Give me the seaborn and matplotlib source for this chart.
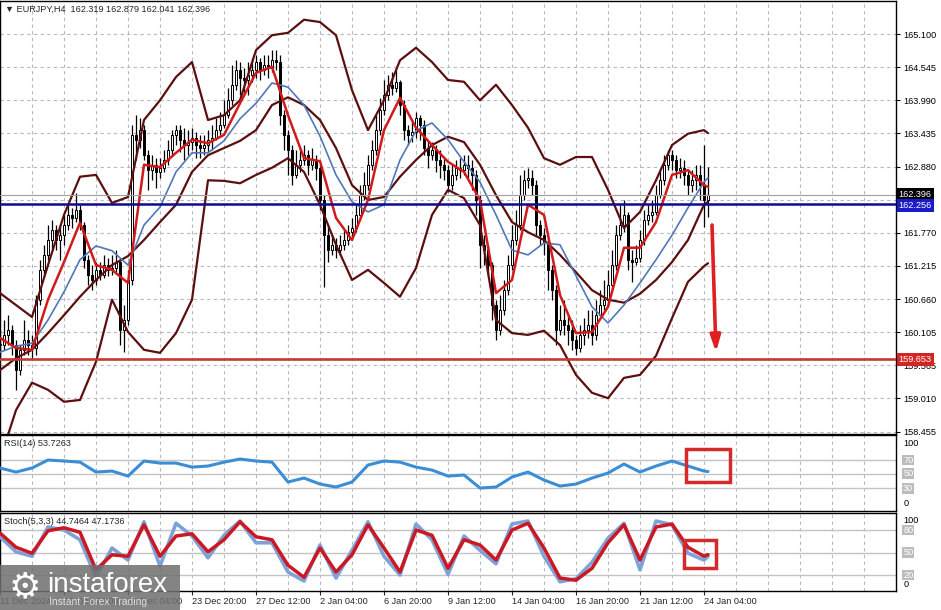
import matplotlib
matplotlib.use("Agg")
import matplotlib.pyplot as plt
import matplotlib.transforms as mtransforms
from matplotlib.patches import Rectangle
import numpy as np
import pandas as pd
import seaborn as sns

sns.set_style("white")
plt.rcParams["font.family"] = ["Liberation Sans", "DejaVu Sans"]

# EURJPY H4 candles (opens = previous close)
closes = [159.89, 160.06, 160.14, 159.89, 159.47, 159.81, 159.97, 159.89, 159.84, 160.65,
          161.15, 161.40, 161.65, 161.82, 161.65, 161.73, 161.90, 162.07, 162.02, 162.15,
          161.90, 161.32, 161.06, 160.98, 161.15, 161.06, 161.23, 161.15, 161.18, 161.28,
          160.14, 160.31, 160.98, 163.41, 163.33, 163.49, 163.07, 162.82, 162.91, 162.79,
          162.86, 162.99, 163.16, 163.41, 163.49, 163.33, 163.24, 163.29, 163.36, 163.24,
          163.19, 163.24, 163.33, 163.36, 163.49, 163.58, 163.74, 163.99, 164.25, 164.50,
          164.36, 164.33, 164.41, 164.50, 164.63, 164.50, 164.58, 164.53, 164.66, 164.63,
          163.74, 163.41, 163.16, 162.74, 162.91, 162.99, 163.07, 162.91, 162.99, 162.86,
          162.32, 161.73, 161.48, 161.57, 161.48, 161.57, 161.65, 161.78, 161.85, 162.07,
          162.40, 162.57, 162.91, 163.16, 163.49, 163.83, 164.08, 164.25, 164.20, 164.30,
          163.91, 163.49, 163.41, 163.46, 163.69, 163.58, 163.19, 163.07, 163.16, 162.99,
          162.91, 162.82, 162.57, 162.74, 162.86, 162.82, 162.91, 162.86, 162.74, 162.32,
          161.57, 161.48, 161.23, 160.56, 160.14, 160.48, 160.81, 161.23, 161.65, 161.90,
          162.40, 162.65, 162.69, 162.57, 161.90, 161.73, 161.62, 161.15, 160.81, 160.14,
          160.31, 160.23, 160.14, 159.97, 159.84, 160.06, 160.14, 160.23, 160.06, 160.39,
          160.56, 160.65, 160.90, 161.23, 161.73, 161.90, 162.07, 161.32, 161.28, 161.35,
          161.65, 161.98, 162.07, 162.12, 162.40, 162.65, 162.91, 163.07, 162.99, 162.82,
          162.86, 162.74, 162.57, 162.65, 162.74, 162.57, 162.319, 162.396]
highs = [160.14, 160.31, 160.39, 160.23, 159.97, 159.89, 160.31, 160.14, 160.06, 160.73,
         161.32, 161.57, 161.90, 161.98, 161.90, 161.90, 162.07, 162.24, 162.19, 162.44,
         162.24, 161.95, 161.40, 161.23, 161.28, 161.28, 161.40, 161.35, 161.40, 161.48,
         161.35, 160.56, 161.15, 163.58, 163.74, 163.69, 163.58, 163.16, 163.07, 163.02,
         163.02, 163.16, 163.33, 163.49, 163.58, 163.58, 163.53, 163.49, 163.53, 163.46,
         163.41, 163.41, 163.49, 163.58, 163.69, 163.79, 163.99, 164.20, 164.58, 164.66,
         164.63, 164.53, 164.63, 164.70, 164.75, 164.70, 164.75, 164.75, 164.83, 164.83,
         164.75, 163.83, 163.49, 163.24, 163.16, 163.19, 163.24, 163.16, 163.19, 163.07,
         162.91, 162.40, 161.90, 161.73, 161.68, 161.73, 161.82, 161.90, 162.02, 162.24,
         162.57, 162.79, 163.07, 163.33, 163.74, 164.03, 164.33, 164.41, 164.46, 164.50,
         164.33, 163.99, 163.58, 163.66, 163.79, 163.74, 163.66, 163.33, 163.29, 163.24,
         163.16, 163.02, 162.91, 162.91, 162.99, 163.02, 163.07, 163.07, 162.99, 162.82,
         162.40, 161.73, 161.57, 161.28, 160.65, 160.73, 160.98, 161.40, 161.90, 162.15,
         162.74, 162.82, 162.86, 162.82, 162.65, 161.98, 161.85, 161.68, 161.23, 160.90,
         160.56, 160.65, 160.39, 160.31, 160.06, 160.23, 160.34, 160.48, 160.48, 160.65,
         160.81, 160.98, 161.15, 161.48, 161.90, 162.24, 162.32, 162.12, 161.48, 161.57,
         161.82, 162.15, 162.24, 162.32, 162.57, 162.82, 163.07, 163.16, 163.16, 163.07,
         163.02, 162.99, 162.82, 162.82, 162.91, 162.91, 163.24, 162.879]
lows = [159.64, 159.81, 159.89, 159.72, 159.14, 159.39, 159.72, 159.72, 159.64, 159.72,
        160.56, 161.06, 161.32, 161.48, 161.48, 161.32, 161.57, 161.82, 161.85, 161.95,
        161.82, 161.18, 160.90, 160.81, 160.90, 160.98, 161.01, 161.05, 161.06, 161.11,
        159.89, 159.77, 160.23, 160.90, 162.99, 163.19, 162.99, 162.49, 162.65, 162.52,
        162.69, 162.79, 162.91, 163.07, 163.24, 163.12, 162.99, 163.07, 163.16, 163.02,
        163.02, 163.07, 163.12, 163.16, 163.33, 163.41, 163.53, 163.69, 163.91, 164.16,
        164.08, 164.13, 164.08, 164.30, 164.36, 164.33, 164.41, 164.36, 164.46, 164.50,
        163.58, 163.16, 162.74, 162.57, 162.69, 162.79, 162.91, 162.74, 162.82, 162.65,
        162.15, 160.86, 161.28, 161.40, 161.35, 161.40, 161.48, 161.57, 161.65, 161.78,
        161.98, 162.32, 162.49, 162.82, 163.07, 163.41, 163.74, 163.99, 164.08, 164.13,
        163.74, 163.33, 163.24, 163.29, 163.36, 163.33, 163.07, 162.86, 162.99, 162.79,
        162.69, 162.65, 162.45, 162.49, 162.65, 162.69, 162.74, 162.69, 162.49, 162.07,
        161.18, 161.23, 161.06, 160.31, 159.97, 160.06, 160.39, 160.73, 161.15, 161.57,
        161.82, 162.32, 162.52, 162.40, 161.73, 161.57, 161.40, 160.81, 160.65, 159.89,
        160.06, 160.06, 159.89, 159.81, 159.72, 159.77, 159.89, 160.01, 159.89, 159.97,
        160.39, 160.48, 160.56, 160.81, 161.15, 161.65, 161.78, 161.15, 160.95, 161.23,
        161.28, 161.57, 161.90, 161.95, 162.07, 162.35, 162.57, 162.82, 162.82, 162.69,
        162.69, 162.57, 162.40, 162.45, 162.49, 162.32, 161.87, 162.041]

# indicator readings: every 4th bar plus the last bar
line_bars = list(range(0, 177, 4)) + [177]
bb_upper = [160.76, 160.56, 160.36, 161.23, 162.07, 162.71, 162.74, 162.27, 162.37, 163.66,
            163.99, 164.38, 164.63, 163.66, 163.74, 163.99, 164.83, 165.08, 165.12, 165.34,
            165.30, 165.08, 164.16, 163.49, 163.99, 164.66, 164.87, 164.63, 164.33, 164.30,
            163.99, 164.25, 163.91, 163.53, 163.02, 162.91, 163.04, 163.04, 162.49, 161.85,
            162.12, 162.65, 163.24, 163.43, 163.49, 163.44]
bb_middle = [159.47, 159.67, 159.81, 160.09, 160.39, 160.70, 160.98, 161.23, 161.38, 161.65,
             161.95, 162.24, 162.79, 163.07, 163.19, 163.31, 163.49, 163.91, 164.04, 163.91,
             163.66, 163.19, 162.57, 162.32, 162.37, 162.71, 162.99, 163.24, 163.38, 163.29,
             162.91, 162.40, 161.95, 161.78, 161.65, 161.40, 161.11, 160.81, 160.65, 160.60,
             160.75, 160.98, 161.28, 161.65, 162.24, 162.29]
bb_lower = [157.97, 158.80, 159.26, 159.14, 158.94, 158.97, 159.61, 160.65, 160.11, 159.81,
            159.76, 160.09, 160.65, 162.65, 162.64, 162.60, 162.74, 162.86, 163.02, 162.79,
            162.24, 161.57, 160.98, 161.15, 160.93, 160.70, 161.18, 162.07, 162.49, 162.35,
            161.90, 160.31, 160.09, 160.06, 160.13, 159.89, 159.39, 159.09, 159.00, 159.34,
            159.39, 159.71, 160.34, 160.95, 161.21, 161.26]
ma_fast = [160.01, 159.84, 159.81, 160.65, 161.28, 161.94, 161.23, 161.15, 160.93, 162.91,
           162.87, 163.11, 163.33, 163.27, 163.41, 163.94, 164.45, 164.55, 163.74, 163.02,
           162.97, 162.02, 161.65, 162.32, 163.49, 164.03, 163.53, 163.24, 162.96, 162.79,
           162.32, 160.76, 160.98, 162.24, 162.07, 160.73, 160.09, 160.11, 160.53, 161.52,
           161.52, 161.95, 162.74, 162.82, 162.57, 162.54]
ma_slow = [159.77, 159.87, 159.92, 160.31, 160.78, 161.32, 161.55, 161.47, 161.23, 161.90,
           162.20, 162.79, 163.11, 163.11, 163.31, 163.68, 163.94, 164.28, 164.21, 163.91,
           163.39, 162.74, 162.29, 162.12, 162.24, 162.99, 163.48, 163.61, 163.33, 162.96,
           162.62, 162.07, 161.48, 161.40, 161.60, 161.57, 161.05, 160.53, 160.26, 160.56,
           160.93, 161.32, 161.73, 162.19, 162.62, 162.69]
rsi = [58.7, 53.0, 58.7, 70.0, 68.6, 67.0, 53.0, 54.4, 47.3, 68.6,
       65.7, 65.7, 60.0, 61.5, 67.0, 71.4, 68.6, 67.0, 38.9, 44.5,
       36.0, 31.8, 38.9, 62.9, 68.6, 67.0, 60.0, 55.8, 47.3, 48.8,
       30.4, 31.8, 45.9, 53.0, 41.7, 33.2, 36.0, 44.5, 51.6, 64.3,
       53.0, 61.5, 68.6, 61.5, 54.4, 53.7263]
stoch_k = [71, 51, 45, 84, 80, 67, 17, 56, 40, 91,
           32, 89, 72, 43, 73, 92, 63, 63, 24, 12,
           60, 16, 53, 91, 45, 20, 88, 67, 21, 72,
           53, 35, 88, 92, 45, 11, 15, 37, 69, 89,
           27, 92, 87, 49, 40, 44.7464]
stoch_d = [76, 57, 49, 79, 83, 77, 27, 47, 45, 87,
           45, 72, 75, 51, 67, 91, 71, 67, 33, 17,
           56, 24, 47, 87, 56, 24, 80, 73, 29, 67,
           60, 40, 80, 89, 56, 16, 13, 29, 63, 87,
           40, 84, 88, 57, 45, 47.1736]

date_labels = ["11 Dec 2024", "16 Dec 12:00", "19 Dec 04:00", "23 Dec 20:00",
               "27 Dec 12:00", "2 Jan 04:00", "6 Jan 20:00", "9 Jan 12:00",
               "14 Jan 04:00", "16 Jan 20:00", "21 Jan 12:00", "24 Jan 04:00"]
price_ticks = [165.100, 164.545, 163.990, 163.435, 162.880, 162.325, 161.770,
               161.215, 160.660, 160.105, 159.550, 158.995, 158.440]
price_labels = ["165.100", "164.545", "163.990", "163.435", "162.880", "", "161.770",
                "161.215", "160.660", "160.105", "159.565", "159.010", "158.455"]

resistance = 162.256
support = 159.653
last_price = 162.396

GRID = "#b8b8b8"
MAROON = "#5c0f0f"

fig = plt.figure(figsize=(9.41, 6.10), dpi=100)
fig.patch.set_facecolor("white")
ax = fig.add_axes([0, 0.28852, 0.95218, 0.70984])
ax_rsi = fig.add_axes([0, 0.16230, 0.95218, 0.12459])
ax_st = fig.add_axes([0, 0.03115, 0.95218, 0.12787])


def setup_panel(a):
    for s in a.spines.values():
        s.set_color("black")
        s.set_linewidth(1)
    a.set_xlim(0, 224)
    for xv in range(8, 224, 8):
        a.axvline(xv, color=GRID, lw=0.8, ls=(0, (3, 3)), zorder=0)
    a.set_xticks([])
    a.yaxis.tick_right()


for a in (ax, ax_rsi, ax_st):
    setup_panel(a)

# ---- main panel ----
ax.set_ylim(158.40, 165.653)
for yv in price_ticks:
    ax.axhline(yv, color=GRID, lw=0.8, ls=(0, (3, 3)), zorder=0)
ax.set_yticks(price_ticks)
ax.set_yticklabels(price_labels)
ax.tick_params(axis="y", direction="out", length=3, pad=2, labelsize=6.6, colors="black")

df = pd.DataFrame({"bar": range(len(closes)), "close": closes, "high": highs, "low": lows})
df["open"] = [closes[0]] + closes[:-1]
up = df["close"] >= df["open"]
ax.vlines(df["bar"], df["low"], df["high"], color="black", lw=0.9, zorder=2)
body = (df["close"] - df["open"]).abs().clip(lower=0.015)
ax.bar(df["bar"], body, bottom=df[["open", "close"]].min(axis=1), width=0.7,
       color=np.where(up, "white", "black"), edgecolor="black", linewidth=0.7, zorder=3)

ind = pd.DataFrame({"bar": line_bars, "upper": bb_upper, "middle": bb_middle,
                    "lower": bb_lower, "fast": ma_fast, "slow": ma_slow})
for col, color, lw in [("upper", MAROON, 1.6), ("middle", MAROON, 1.6), ("lower", MAROON, 1.6),
                       ("slow", "#4f78b8", 1.2), ("fast", "#d11a1a", 1.8)]:
    sns.lineplot(data=ind, x="bar", y=col, ax=ax, color=color, lw=lw, zorder=4, legend=False)

ax.axhline(last_price, color="#a0a0a0", lw=0.8, zorder=5)
ax.axhline(resistance, color="#0c0c8e", lw=1.8, zorder=5)
ax.axhline(support, color="#c23a32", lw=1.9, zorder=5)

trans = mtransforms.blended_transform_factory(ax.transAxes, ax.transData)
ax.text(1.003, last_price + 0.02, f"{last_price:.3f}", transform=trans, color="white",
        fontsize=6.6, va="center", ha="left",
        bbox=dict(boxstyle="square,pad=0.2", fc="black", ec="none"), clip_on=False, zorder=6)
ax.text(1.003, resistance - 0.03, f"{resistance:.3f}", transform=trans, color="white",
        fontsize=6.6, va="center", ha="left",
        bbox=dict(boxstyle="square,pad=0.2", fc="#1a1ac8", ec="none"), clip_on=False, zorder=7)
ax.text(1.003, support, f"{support:.3f}", transform=trans, color="white",
        fontsize=6.6, va="center", ha="left",
        bbox=dict(boxstyle="square,pad=0.2", fc="#d42525", ec="none"), clip_on=False, zorder=7)

ax.annotate("", xy=(179, 159.77), xytext=(178, 161.90),
            arrowprops=dict(arrowstyle="-|>,head_width=0.3,head_length=0.95",
                            color="#e02020", lw=2.6, shrinkA=0, shrinkB=0), zorder=8)
ax.set_xlabel("")
ax.set_ylabel("")

# ---- RSI panel ----
ax_rsi.set_ylim(-2.1, 105.4)
for lv in (70, 50, 30):
    ax_rsi.axhline(lv, color="#c4c4c4", lw=1, zorder=0)
sns.lineplot(x=line_bars, y=rsi, ax=ax_rsi, color="#3b8ed6", lw=2.2, zorder=3, legend=False)
ax_rsi.add_patch(Rectangle((171.5, 38.9), 11, 46.6, fill=False, ec="#d42a2a", lw=2.5, zorder=5))
ax_rsi.set_yticks([])

# ---- Stochastic panel ----
ax_st.set_ylim(-1.3, 102.7)
for lv in (80, 50, 20):
    ax_st.axhline(lv, color="#c4c4c4", lw=1, zorder=0)
sns.lineplot(x=line_bars, y=stoch_k, ax=ax_st, color="#7ca2d8", lw=2.6, zorder=3, legend=False)
sns.lineplot(x=line_bars, y=stoch_d, ax=ax_st, color="#cc1822", lw=2.5, zorder=4, legend=False)
ax_st.add_patch(Rectangle((171, 29.3), 8, 37.4, fill=False, ec="#d42a2a", lw=2.5, zorder=5))
ax_st.set_yticks([])
ax_st.set_xticks(range(0, 177, 16))
ax_st.set_xticklabels(date_labels, ha="left")
ax_st.tick_params(axis="x", direction="out", length=3, pad=1, labelsize=6.6, bottom=True)


def level_labels(a, items):
    tr = mtransforms.blended_transform_factory(a.transAxes, a.transData)
    for yv, txt, boxed in items:
        if boxed:
            a.text(1.008, yv, txt, transform=tr, fontsize=6.6, color="white", va="center",
                   ha="left", bbox=dict(boxstyle="square,pad=0.1", fc="#bcbcbc", ec="none"),
                   clip_on=False)
        else:
            a.text(1.008, yv, txt, transform=tr, fontsize=6.6, color="black", va="center",
                   ha="left", clip_on=False)


level_labels(ax_rsi, [(94, "100", False), (70, "70", True), (51, "50", True),
                      (30, "30", True), (8, "0", False)])
level_labels(ax_st, [(80, "80", True), (93, "100", False), (50, "50", True),
                     (20, "20", True), (8, "0", False)])
for a in (ax_rsi, ax_st):
    a.set_xlabel("")
    a.set_ylabel("")

# ---- texts ----
fig.text(5 / 941, 1 - 9 / 610, "▼ EURJPY,H4  162.319 162.879 162.041 162.396",
         fontsize=6.6, va="center", ha="left")
fig.text(4 / 941, 1 - 444 / 610, "RSI(14) 53.7263", fontsize=6.6, va="center", ha="left")
fig.text(4 / 941, 1 - 522 / 610, "Stoch(5,3,3) 44.7464 47.1736", fontsize=6.6,
         va="center", ha="left")

# watermark
fig.add_artist(Rectangle((0, 0), 180 / 941, 45 / 610, transform=fig.transFigure,
                         fc="#6f6f6f", alpha=0.85, ec="none", zorder=5))
fig.text(25 / 941, 1 - 587 / 610, "⚙", fontsize=26, color="white", ha="center",
         va="center", family="DejaVu Sans", zorder=6)
fig.text(47 / 941, 1 - 592 / 610, "instaforex", fontsize=20, color="white",
         ha="left", va="baseline", zorder=6)
fig.text(49 / 941, 1 - 605 / 610, "Instant Forex Trading", fontsize=7.5, color="#dddddd",
         ha="left", va="baseline", zorder=6)

fig.savefig("out.png", dpi=100)
